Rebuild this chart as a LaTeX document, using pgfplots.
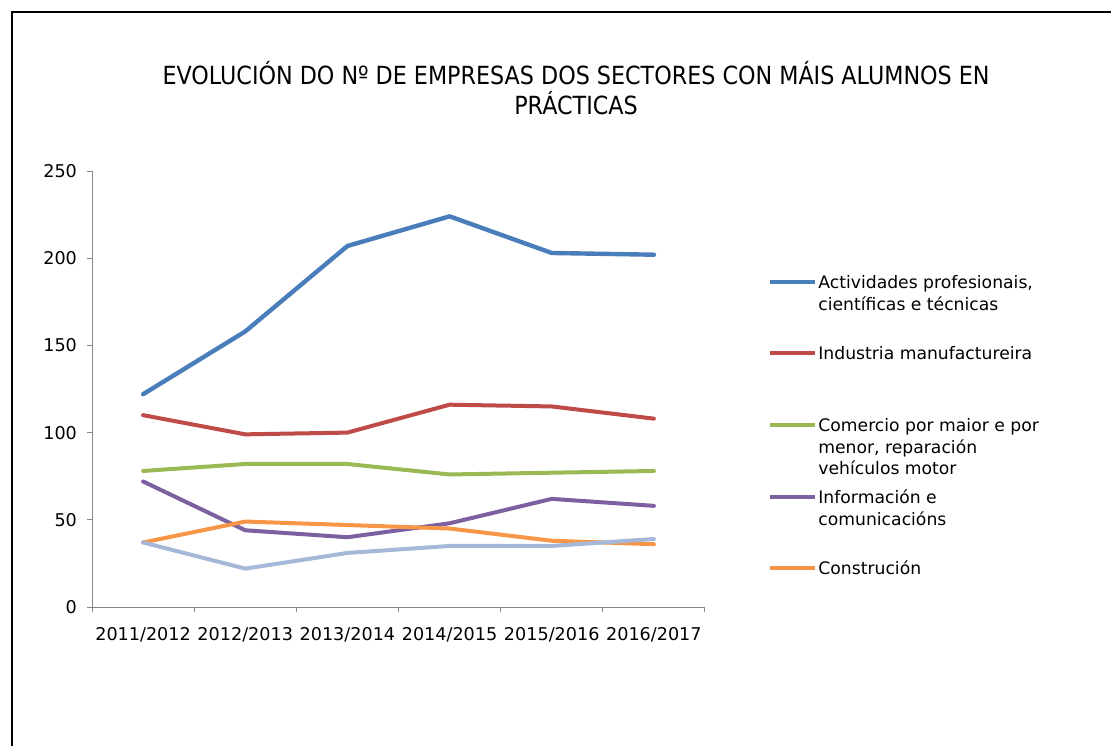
\documentclass[border=0pt]{standalone}
\usepackage{fontspec}
\setmainfont{DejaVu Sans}
\newfontfamily\titlefont[FakeStretch=0.89]{DejaVu Sans}
\usepackage{pgfplots}
\pgfplotsset{compat=1.18}
\definecolor{cBlue}{HTML}{4A7EBB}
\definecolor{cRed}{HTML}{BE4B48}
\definecolor{cGreen}{HTML}{98B954}
\definecolor{cPurple}{HTML}{7D60A0}
\definecolor{cOrange}{HTML}{F79646}
\definecolor{cLight}{HTML}{A5B8DA}
\definecolor{axgray}{HTML}{868686}
\newcommand{\legentry}[3]{%
  \draw[#1, line width=1.6pt] (385pt,#2) -- (407.5pt,#2);
  \node[anchor=base west, inner sep=0pt, font=\fontsize{8.6}{10.8}\selectfont]
    at (409pt,#2-3.2pt) {\parbox[t]{130pt}{#3}};}
\begin{document}
\begin{tikzpicture}
\useasboundingbox (0,0) rectangle (555.5pt,372.5pt);
\clip (0,0) rectangle (555.5pt,372.5pt);
\draw[line width=1pt] (6pt,-10pt) -- (6pt,366.5pt) -- (600pt,366.5pt);
\node[align=center,font=\titlefont\fontsize{12.5}{15}\selectfont] at (288pt,328.5pt)
  {EVOLUCIÓN DO Nº DE EMPRESAS DOS SECTORES CON MÁIS ALUMNOS EN\\PRÁCTICAS};
\begin{axis}[
  at={(46pt,69pt)}, anchor=south west,
  scale only axis, width=306.5pt, height=218pt,
  xmin=0, xmax=6, ymin=0, ymax=250,
  xtick={0,...,6}, x tick label as interval,
  xticklabels={2011/2012,2012/2013,2013/2014,2014/2015,2015/2016,2016/2017},
  ytick={0,50,...,250},
  axis x line*=bottom, axis y line*=left,
  axis line style={draw=axgray, line width=0.5pt, -},
  tick style={draw=axgray, line width=0.5pt},
  tick align=outside, major tick length=2.5pt,
  /pgf/number format/assume math mode=true,
  ticklabel style={font=\fontsize{8.8}{10}\selectfont, text=black},
  xticklabel style={yshift=-4pt},
  yticklabel style={xshift=-1.5pt},
  every axis plot/.append style={line width=2pt, line join=round, line cap=round},
]
\addplot[cBlue, line width=2.2pt] coordinates {(0.5,122) (1.5,158) (2.5,207) (3.5,224) (4.5,203) (5.5,202)};
\addplot[cRed] coordinates {(0.5,110) (1.5,99) (2.5,100) (3.5,116) (4.5,115) (5.5,108)};
\addplot[cGreen] coordinates {(0.5,78) (1.5,82) (2.5,82) (3.5,76) (4.5,77) (5.5,78)};
\addplot[cPurple] coordinates {(0.5,72) (1.5,44) (2.5,40) (3.5,48) (4.5,62) (5.5,58)};
\addplot[cOrange] coordinates {(0.5,37) (1.5,49) (2.5,47) (3.5,45) (4.5,38) (5.5,36)};
\addplot[cLight] coordinates {(0.5,37) (1.5,22) (2.5,31) (3.5,35) (4.5,35) (5.5,39)};
\end{axis}
\legentry{cBlue}{231.5pt}{Actividades profesionais,\\científicas e técnicas}
\legentry{cRed}{196pt}{Industria manufactureira}
\legentry{cGreen}{160pt}{Comercio por maior e por\\menor, reparación\\vehículos motor}
\legentry{cPurple}{124pt}{Información e\\comunicacións}
\legentry{cOrange}{88.5pt}{Construción}
\end{tikzpicture}
\end{document}
